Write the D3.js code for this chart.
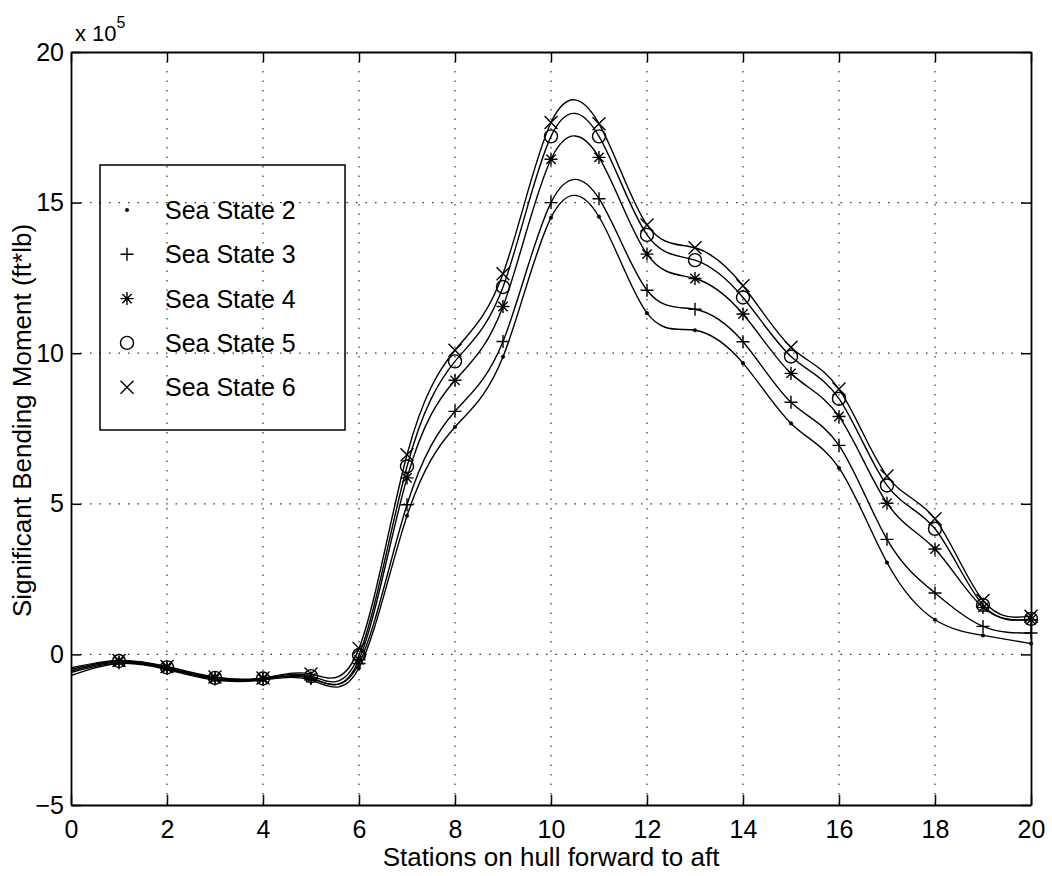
<!DOCTYPE html>
<html>
<head>
<meta charset="utf-8">
<script src="https://cdn.jsdelivr.net/npm/d3@7"></script>
<style>
    body { margin: 0; background: #fff; }
    svg { display: block; }
    text { font-family: "Liberation Sans", Arial, Helvetica, sans-serif; fill: #000; }
</style>
</head>
<body>
<div id="container"></div>
<script>
let WIDTH = 1052;
let HEIGHT = 876;

// stations along the hull, bending moment in units of 1e5 ft*lb
let stations = [0, 1, 2, 3, 4, 5, 6, 7, 8, 9, 10, 11, 12, 13, 14, 15, 16, 17, 18, 19, 20];
let seaState2 = [-0.70, -0.30, -0.50, -0.85, -0.85, -0.85, -0.45, 4.60, 7.55, 9.88, 14.50, 14.53, 11.33, 10.76, 9.67, 7.67, 6.19, 3.05, 1.15, 0.63, 0.36];
let seaState3 = [-0.60, -0.28, -0.47, -0.82, -0.83, -0.80, -0.30, 4.97, 8.07, 10.39, 15.00, 15.13, 12.09, 11.46, 10.38, 8.37, 6.94, 3.82, 2.04, 0.93, 0.71];
let seaState4 = [-0.55, -0.25, -0.45, -0.80, -0.82, -0.78, -0.18, 5.86, 9.10, 11.55, 16.44, 16.50, 13.29, 12.48, 11.30, 9.33, 7.90, 5.02, 3.50, 1.56, 1.15];
let seaState5 = [-0.50, -0.22, -0.43, -0.78, -0.80, -0.72, -0.02, 6.24, 9.73, 12.20, 17.20, 17.20, 13.93, 13.09, 11.85, 9.89, 8.49, 5.61, 4.17, 1.64, 1.18];
let seaState6 = [-0.45, -0.20, -0.40, -0.75, -0.78, -0.65, 0.20, 6.63, 10.10, 12.64, 17.66, 17.62, 14.26, 13.50, 12.24, 10.20, 8.81, 5.92, 4.50, 1.79, 1.27];

let seriesNames = ['Sea State 2', 'Sea State 3', 'Sea State 4', 'Sea State 5', 'Sea State 6'];
let seriesMarkers = ['dot', 'plus', 'star', 'circle', 'cross'];
let seriesValues = [seaState2, seaState3, seaState4, seaState5, seaState6];

let xTicks = [0, 2, 4, 6, 8, 10, 12, 14, 16, 18, 20];
let yTicks = [-5, 0, 5, 10, 15, 20];

let plot = { left: 71, right: 1031, top: 52, bottom: 805 };

let x = d3.scaleLinear().domain([0, 20]).range([plot.left, plot.right]);
let y = d3.scaleLinear().domain([-5, 20]).range([plot.bottom, plot.top]);

let svg = d3.select('#container').append('svg')
    .attr('width', WIDTH)
    .attr('height', HEIGHT);

// dotted grid
let grid = svg.append('g')
    .attr('stroke', '#333')
    .attr('stroke-width', 1.2)
    .attr('stroke-dasharray', '1.5,8');
grid.selectAll('.gx').data(xTicks.slice(1, -1)).enter().append('line')
    .attr('x1', d => x(d)).attr('x2', d => x(d))
    .attr('y1', plot.top).attr('y2', plot.bottom);
grid.selectAll('.gy').data(yTicks.slice(1, -1)).enter().append('line')
    .attr('x1', plot.left).attr('x2', plot.right)
    .attr('y1', d => y(d)).attr('y2', d => y(d));

// axes, ticks pointing inward on all four sides
function styleAxis(g) {
    g.select('.domain').attr('stroke', '#000').attr('stroke-width', 1.8);
    g.selectAll('.tick line').attr('stroke', '#000').attr('stroke-width', 1.5);
    g.selectAll('.tick text').attr('font-size', 25).attr('fill', '#000')
        .style('font-family', '"Liberation Sans", Arial, sans-serif');
}
svg.append('g')
    .attr('transform', `translate(0,${plot.bottom})`)
    .call(d3.axisBottom(x).tickValues(xTicks).tickSizeInner(-10).tickSizeOuter(0).tickPadding(15))
    .call(styleAxis);
svg.append('g')
    .attr('transform', `translate(${plot.left},0)`)
    .call(d3.axisLeft(y).tickValues(yTicks).tickSizeInner(-10).tickSizeOuter(0).tickPadding(7))
    .call(styleAxis);
svg.append('g')
    .attr('transform', `translate(0,${plot.top})`)
    .call(d3.axisTop(x).tickValues(xTicks).tickSizeInner(-10).tickSizeOuter(0).tickFormat(''))
    .call(styleAxis);
svg.append('g')
    .attr('transform', `translate(${plot.right},0)`)
    .call(d3.axisRight(y).tickValues(yTicks).tickSizeInner(-10).tickSizeOuter(0).tickFormat(''))
    .call(styleAxis);

// exponent note
let expo = svg.append('text')
    .attr('x', 75)
    .attr('y', 41)
    .attr('font-size', 22)
    .text('x 10');
expo.append('tspan')
    .attr('dy', -13)
    .attr('font-size', 16)
    .text('5');

// axis labels
svg.append('text')
    .attr('x', x(10))
    .attr('y', 866)
    .attr('text-anchor', 'middle')
    .attr('font-size', 26)
    .text('Stations on hull forward to aft');
svg.append('text')
    .attr('transform', `translate(31,${(plot.top + plot.bottom) / 2 - 8}) rotate(-90)`)
    .attr('text-anchor', 'middle')
    .attr('font-size', 26)
    .text('Significant Bending Moment (ft*lb)');

// marker shapes
function markerPath(type, r) {
    if (type === 'plus') return `M${-r},0H${r}M0,${-r}V${r}`;
    if (type === 'cross') return `M${-r},${-r}L${r},${r}M${-r},${r}L${r},${-r}`;
    if (type === 'star') {
        let k = r * 0.72;
        return `M${-r},0H${r}M0,${-r}V${r}M${-k},${-k}L${k},${k}M${-k},${k}L${k},${-k}`;
    }
    if (type === 'circle') {
        let p = d3.path();
        p.moveTo(r, 0);
        p.arc(0, 0, r, 0, 2 * Math.PI);
        return p.toString();
    }
    let p = d3.path();
    p.moveTo(1.8, 0);
    p.arc(0, 0, 1.8, 0, 2 * Math.PI);
    return p.toString();
}
function drawMarker(sel, type) {
    sel.attr('d', markerPath(type, 6.5))
        .attr('fill', type === 'dot' ? '#000' : 'none')
        .attr('stroke', '#000')
        .attr('stroke-width', type === 'dot' ? 0.5 : 1.4);
}

// curves
let line = d3.line()
    .x((d, i) => x(stations[i]))
    .y(d => y(d))
    .curve(d3.curveNatural);

let curves = svg.append('g');
seriesValues.forEach(function (vals, s) {
    curves.append('path')
        .attr('d', line(vals))
        .attr('fill', 'none')
        .attr('stroke', '#000')
        .attr('stroke-width', 1.4);
});
seriesValues.forEach(function (vals, s) {
    let pts = vals.map((v, i) => ({ s: stations[i], v: v })).filter(d => d.s >= 1);
    curves.selectAll('.m' + s).data(pts).enter().append('path')
        .attr('transform', d => `translate(${x(d.s)},${y(d.v)})`)
        .call(drawMarker, seriesMarkers[s]);
});

// legend
let legend = svg.append('g');
legend.append('rect')
    .attr('x', 100).attr('y', 165)
    .attr('width', 245).attr('height', 265)
    .attr('fill', 'none')
    .attr('stroke', '#000')
    .attr('stroke-width', 1.5);
seriesNames.forEach(function (name, i) {
    let cy = 210 + i * 44.3;
    legend.append('path')
        .attr('transform', `translate(127,${cy})`)
        .call(drawMarker, seriesMarkers[i]);
    legend.append('text')
        .attr('x', 165)
        .attr('y', cy)
        .attr('dy', '0.36em')
        .attr('font-size', 25)
        .text(name);
});
</script>
</body>
</html>
